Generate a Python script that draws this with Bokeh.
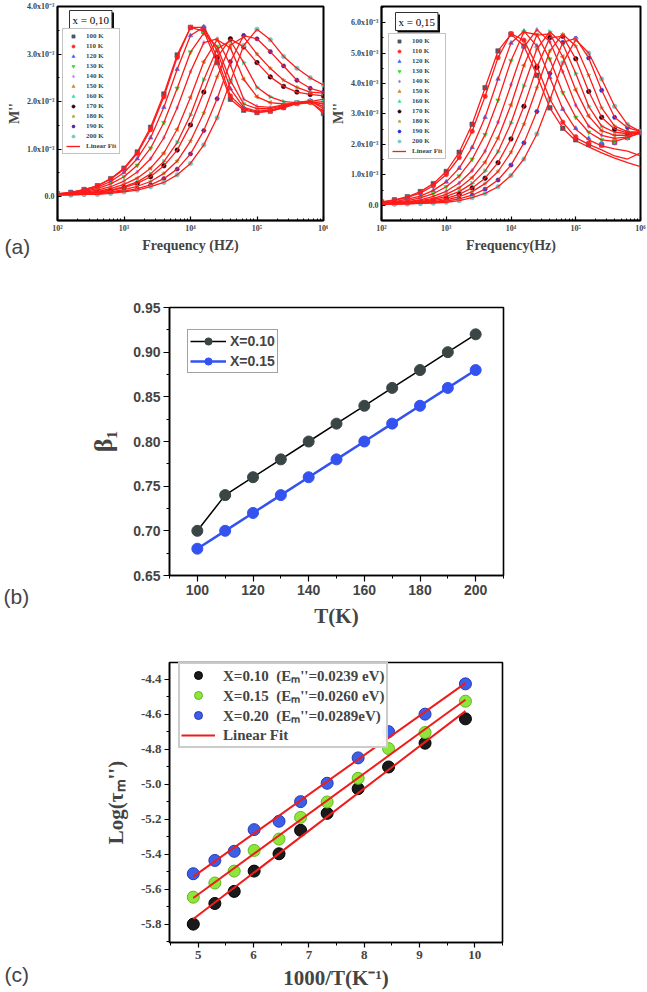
import numpy as np
from bokeh.plotting import figure
from bokeh.layouts import column, row
from bokeh.models import (Legend, LegendItem, Label, FixedTicker, CustomJSTickFormatter,
                          NumeralTickFormatter, Range1d)
from bokeh.embed import file_html
from bokeh.resources import INLINE

SERIF = "Liberation Serif"
SANS = "Liberation Sans"

# ---------------- data: panel (a) ----------------
temp_labels = ["100 K", "110 K", "120 K", "130 K", "140 K", "150 K",
               "160 K", "170 K", "180 K", "190 K", "200 K"]
log_freq = [2.0, 2.2, 2.4, 2.6, 2.8, 3.0, 3.2, 3.4, 3.6, 3.8, 4.0,
            4.2, 4.4, 4.6, 4.8, 5.0, 5.2, 5.4, 5.6, 5.8, 6.0]

# M'' (units of 1e-3), x = 0,10
a10_100 = [0.06, 0.09, 0.15, 0.23, 0.38, 0.60, 0.94, 1.46, 2.16, 2.98, 3.56, 3.48, 2.82, 2.05, 1.82, 1.77, 1.80, 1.88, 1.97, 2.00, 1.75]
a10_110 = [0.06, 0.09, 0.15, 0.23, 0.37, 0.58, 0.91, 1.41, 2.10, 2.93, 3.56, 3.56, 2.93, 2.12, 1.85, 1.78, 1.80, 1.87, 1.96, 1.98, 1.80]
a10_120 = [0.06, 0.08, 0.13, 0.20, 0.32, 0.51, 0.80, 1.24, 1.88, 2.68, 3.39, 3.57, 3.07, 2.27, 1.88, 1.80, 1.82, 1.90, 1.98, 2.02, 1.85]
a10_130 = [0.05, 0.07, 0.11, 0.17, 0.27, 0.42, 0.66, 1.02, 1.56, 2.28, 3.04, 3.44, 3.16, 2.44, 1.95, 1.85, 1.85, 1.92, 1.98, 2.00, 1.90]
a10_140 = [0.05, 0.06, 0.09, 0.14, 0.21, 0.33, 0.52, 0.80, 1.24, 1.87, 2.63, 3.24, 3.32, 2.77, 2.05, 1.90, 1.88, 1.93, 1.98, 2.00, 1.95]
a10_150 = [0.05, 0.06, 0.08, 0.11, 0.17, 0.26, 0.39, 0.60, 0.92, 1.42, 2.09, 2.84, 3.30, 3.13, 2.47, 2.10, 1.98, 1.95, 1.95, 1.98, 2.00]
a10_160 = [0.05, 0.05, 0.07, 0.10, 0.14, 0.21, 0.31, 0.48, 0.74, 1.14, 1.72, 2.46, 3.11, 3.28, 2.82, 2.30, 2.10, 2.00, 1.98, 2.00, 2.05]
a10_170 = [0.04, 0.05, 0.07, 0.09, 0.13, 0.19, 0.28, 0.42, 0.65, 0.98, 1.51, 2.20, 2.93, 3.32, 3.15, 2.82, 2.52, 2.32, 2.20, 2.15, 2.12]
a10_180 = [0.04, 0.05, 0.06, 0.08, 0.10, 0.15, 0.22, 0.32, 0.49, 0.75, 1.17, 1.76, 2.52, 3.19, 3.36, 3.00, 2.70, 2.45, 2.30, 2.20, 2.18]
a10_190 = [0.04, 0.04, 0.05, 0.06, 0.09, 0.12, 0.17, 0.25, 0.38, 0.58, 0.90, 1.39, 2.06, 2.84, 3.39, 3.32, 3.05, 2.75, 2.45, 2.28, 2.20]
a10_200 = [0.04, 0.04, 0.05, 0.05, 0.07, 0.10, 0.14, 0.21, 0.30, 0.46, 0.70, 1.09, 1.66, 2.42, 3.18, 3.52, 3.30, 2.95, 2.70, 2.50, 2.35]

# M'' (units of 1e-3), x = 0,15
b15_100 = [0.11, 0.18, 0.28, 0.45, 0.71, 1.11, 1.74, 2.66, 3.86, 5.07, 5.62, 5.23, 4.27, 3.20, 2.53, 2.15, 2.00, 1.98, 2.08, 2.25, 2.42]
b15_110 = [0.10, 0.16, 0.26, 0.40, 0.64, 1.01, 1.57, 2.43, 3.58, 4.85, 5.64, 5.42, 4.57, 3.49, 2.73, 2.25, 2.05, 1.98, 2.05, 2.22, 2.40]
b15_120 = [0.08, 0.12, 0.20, 0.30, 0.49, 0.77, 1.22, 1.90, 2.89, 4.15, 5.33, 5.72, 5.23, 4.20, 3.16, 2.53, 2.20, 2.05, 2.05, 2.20, 2.38]
b15_130 = [0.07, 0.10, 0.15, 0.24, 0.38, 0.61, 0.96, 1.51, 2.32, 3.45, 4.75, 5.69, 5.61, 4.80, 3.70, 2.89, 2.40, 2.15, 2.10, 2.22, 2.38]
b15_140 = [0.06, 0.08, 0.12, 0.18, 0.29, 0.46, 0.73, 1.14, 1.78, 2.73, 3.96, 5.20, 5.77, 5.37, 4.39, 3.29, 2.60, 2.30, 2.20, 2.25, 2.38]
b15_150 = [0.06, 0.07, 0.10, 0.15, 0.23, 0.36, 0.57, 0.91, 1.42, 2.21, 3.30, 4.60, 5.59, 5.63, 4.88, 3.79, 2.93, 2.45, 2.30, 2.30, 2.40]
b15_160 = [0.05, 0.06, 0.08, 0.12, 0.19, 0.29, 0.45, 0.72, 1.13, 1.76, 2.70, 3.92, 5.14, 5.70, 5.30, 4.33, 3.25, 2.60, 2.40, 2.35, 2.40]
b15_170 = [0.05, 0.06, 0.07, 0.10, 0.15, 0.23, 0.36, 0.57, 0.89, 1.40, 2.18, 3.25, 4.53, 5.51, 5.55, 4.81, 3.74, 2.89, 2.50, 2.38, 2.40]
b15_180 = [0.04, 0.05, 0.06, 0.08, 0.12, 0.18, 0.28, 0.45, 0.71, 1.11, 1.74, 2.66, 3.86, 5.07, 5.62, 5.23, 4.27, 3.20, 2.60, 2.42, 2.40]
b15_190 = [0.04, 0.04, 0.05, 0.07, 0.10, 0.14, 0.21, 0.33, 0.53, 0.83, 1.32, 2.05, 3.08, 4.33, 5.35, 5.48, 4.84, 3.78, 2.89, 2.55, 2.42]
b15_200 = [0.04, 0.04, 0.05, 0.06, 0.07, 0.10, 0.15, 0.25, 0.39, 0.61, 0.98, 1.52, 2.34, 3.46, 4.68, 5.44, 5.00, 4.15, 3.25, 2.65, 2.42]
# fitted curves that leave the data at high frequency (x = 0,15)
f15_100 = [0.11, 0.18, 0.28, 0.45, 0.71, 1.11, 1.74, 2.66, 3.86, 5.07, 5.62, 5.23, 4.27, 3.20, 2.53, 2.12, 1.92, 1.72, 1.55, 1.40, 1.27]
f15_110 = [0.10, 0.16, 0.26, 0.40, 0.64, 1.01, 1.57, 2.43, 3.58, 4.85, 5.64, 5.42, 4.57, 3.49, 2.73, 2.22, 2.00, 1.82, 1.62, 1.52, 1.72]
f15_120 = [0.08, 0.12, 0.20, 0.30, 0.49, 0.77, 1.22, 1.90, 2.89, 4.15, 5.33, 5.72, 5.23, 4.20, 3.16, 2.50, 2.15, 1.95, 1.85, 1.78, 1.62]

# ---------------- data: panel (b) ----------------
T_b = [100, 110, 120, 130, 140, 150, 160, 170, 180, 190, 200]
beta_010 = [0.70, 0.74, 0.76, 0.78, 0.80, 0.82, 0.84, 0.86, 0.88, 0.90, 0.92]
beta_015 = [0.68, 0.70, 0.72, 0.74, 0.76, 0.78, 0.80, 0.82, 0.84, 0.86, 0.88]

# ---------------- data: panel (c) ----------------
inv_T = [4.91, 5.30, 5.65, 6.01, 6.46, 6.85, 7.33, 7.89, 8.44, 9.10, 9.83]
tau_010 = [-5.798, -5.680, -5.611, -5.495, -5.396, -5.262, -5.165, -5.024, -4.900, -4.764, -4.625]
tau_015 = [-5.644, -5.563, -5.495, -5.377, -5.312, -5.188, -5.100, -4.965, -4.795, -4.703, -4.524]
tau_020 = [-5.510, -5.434, -5.382, -5.258, -5.210, -5.098, -4.993, -4.848, -4.698, -4.598, -4.425]
labels_c = ["X=0.10  (E\u2098''=0.0239 eV)", "X=0.15  (E\u2098''=0.0260 eV)",
            "X=0.20  (E\u2098''=0.0289eV)"]

MARKERS = ["square", "circle", "triangle", "inverted_triangle", "diamond", "triangle",
           "triangle", "circle", "star", "hex", "circle"]
ANGLES = [0, 0, 0, 0, 0, np.pi / 2, -np.pi / 2, 0, 0, 0, 0]
COLORS_10 = ["#4a5866", "#ff2a2a", "#3a66ff", "#22e022", "#b48af0", "#d0852a",
             "#36e09a", "#2a0012", "#a4a23e", "#5a1f9a", "#74c8c0"]
COLORS_15 = ["#4a5866", "#ff2a2a", "#3a66ff", "#22e022", "#a070e8", "#d0852a",
             "#36e09a", "#2a0012", "#a4a23e", "#2230e0", "#74c8c0"]
FIT_RED = "#ff1a1a"

freq = [10 ** g for g in log_freq]


def style_axes_common(p):
    p.grid.visible = False
    p.outline_line_color = "black"
    p.outline_line_width = 1.6
    for ax in (p.xaxis[0], p.yaxis[0]):
        ax.axis_line_width = 1.5
        ax.major_tick_line_width = 1.2
        ax.minor_tick_line_width = 1.0


def panel_label(text, x, y):
    # x, y in canvas pixels (y from the top); placed in a side panel so it is not clipped
    return Label(x=x, y=y, x_units="canvas", y_units="canvas", text=text,
                 text_font=SANS, text_font_size="21px", text_baseline="bottom")


def panel_a(curves, fits, colors, ymax, yticks, yminor, xtitle, box_text,
            width, left, right, box_xy, leg_loc):
    p = figure(width=width, height=280, x_axis_type="log",
               x_range=Range1d(100, 1e6), y_range=Range1d(-0.5, ymax),
               output_backend="svg", toolbar_location=None,
               min_border_left=left, min_border_right=right,
               min_border_top=6, min_border_bottom=60)
    style_axes_common(p)
    p.outline_line_width = 2
    minor = [k * 10 ** e for e in range(2, 6) for k in range(2, 10)]
    p.xaxis.ticker = FixedTicker(ticks=[1e2, 1e3, 1e4, 1e5, 1e6], minor_ticks=minor)
    p.xaxis.formatter = CustomJSTickFormatter(code="""
        const s = {2:'\u00b2', 3:'\u00b3', 4:'\u2074', 5:'\u2075', 6:'\u2076'};
        return '10' + s[Math.round(Math.log10(tick))];
    """)
    p.yaxis.ticker = FixedTicker(ticks=yticks, minor_ticks=yminor)
    p.yaxis.formatter = CustomJSTickFormatter(code="""
        return tick == 0 ? '0.0' : tick.toFixed(1) + 'x10\u207b\u00b3';
    """)
    for ax in (p.xaxis[0], p.yaxis[0]):
        ax.major_tick_in = 4
        ax.major_tick_out = 0
        ax.minor_tick_in = 2
        ax.minor_tick_out = 0
        ax.major_label_text_font = SERIF
        ax.major_label_text_font_style = "bold"
        ax.major_label_text_font_size = "8px"
        ax.major_label_standoff = 3
        ax.axis_label_text_font = SERIF
        ax.axis_label_text_font_style = "bold"
        ax.axis_label_standoff = 2
    p.xaxis.axis_label = xtitle
    p.xaxis.axis_label_text_font_size = "14px"
    p.yaxis.axis_label = "M''"
    p.yaxis.axis_label_text_font_size = "14px"

    scat = []
    for i, ys in enumerate(curves):
        r = p.scatter(freq, ys, marker=MARKERS[i], angle=ANGLES[i], size=4.5,
                      fill_color=colors[i], line_color=colors[i], line_width=0.6)
        scat.append(r)
    fit_r = []
    for ys in fits:
        fit_r.append(p.line(freq, ys, line_color=FIT_RED, line_width=1.3))

    items = [LegendItem(label=t, renderers=[r]) for t, r in zip(temp_labels, scat)]
    items.append(LegendItem(label="Linear Fit", renderers=[fit_r[0]]))
    leg = Legend(items=items, location=leg_loc, label_text_font=SERIF,
                 label_text_font_style="bold", label_text_font_size="7px",
                 label_height=8, glyph_height=8, glyph_width=14, spacing=2,
                 padding=3, margin=0, label_standoff=6,
                 border_line_color="#888888", border_line_width=1,
                 background_fill_color="white", background_fill_alpha=1)
    p.add_layout(leg)

    bx, by = box_xy
    shadow = Label(x=bx + 2, y=by - 2, x_units="screen", y_units="screen",
                   text=box_text, text_baseline="top", text_font=SERIF,
                   text_font_size="11px", text_color="black",
                   background_fill_color="black", padding=3)
    box = Label(x=bx, y=by, x_units="screen", y_units="screen",
                text=box_text, text_baseline="top", text_font=SERIF,
                text_font_size="11px", text_color="black",
                background_fill_color="white", border_line_color="#333333",
                border_line_width=1, padding=3)
    p.add_layout(shadow)
    p.add_layout(box)
    return p


curves10 = [a10_100, a10_110, a10_120, a10_130, a10_140, a10_150,
            a10_160, a10_170, a10_180, a10_190, a10_200]
curves15 = [b15_100, b15_110, b15_120, b15_130, b15_140, b15_150,
            b15_160, b15_170, b15_180, b15_190, b15_200]
fits15 = [f15_100, f15_110, f15_120] + curves15[3:]

pa1 = panel_a(curves10, curves10, COLORS_10, 4.0, [0, 1, 2, 3, 4],
              [-0.5, 0.5, 1.5, 2.5, 3.5], "Frequency (HZ)", "x = 0,10",
              328, 57, 5, (12, 210), (5, 66))
pa2 = panel_a(curves15, fits15, COLORS_15, 6.53, [0, 1, 2, 3, 4, 5, 6],
              [-0.5, 0.5, 1.5, 2.5, 3.5, 4.5, 5.5, 6.5], "Frequency(Hz)", "x = 0,15",
              318, 51, 6, (14, 208), (7, 61))
pa1.add_layout(panel_label("(a)", 4, 257), "below")

# ---------------- panel (b) ----------------
pb = figure(width=528, height=350, x_range=Range1d(90, 210), y_range=Range1d(0.65, 0.95),
            output_backend="svg", toolbar_location=None,
            min_border_left=169, min_border_right=25, min_border_top=27, min_border_bottom=55)
style_axes_common(pb)
pb.xaxis.ticker = FixedTicker(ticks=[100, 120, 140, 160, 180, 200],
                              minor_ticks=[90, 110, 130, 150, 170, 190, 210])
pb.yaxis.ticker = FixedTicker(ticks=[0.65, 0.70, 0.75, 0.80, 0.85, 0.90, 0.95],
                              minor_ticks=[0.675, 0.725, 0.775, 0.825, 0.875, 0.925])
pb.yaxis.formatter = NumeralTickFormatter(format="0.00")
for ax in (pb.xaxis[0], pb.yaxis[0]):
    ax.major_tick_in = 0
    ax.major_tick_out = 6
    ax.minor_tick_in = 0
    ax.minor_tick_out = 3
    ax.major_label_text_font = SANS
    ax.major_label_text_font_style = "bold"
    ax.major_label_text_font_size = "14px"
    ax.major_label_standoff = 3
    ax.axis_label_text_font = SERIF
    ax.axis_label_text_font_style = "bold"
    ax.axis_label_standoff = 6
pb.xaxis.axis_label = "T(K)"
pb.xaxis.axis_label_text_font_size = "21px"
pb.yaxis.axis_label = "\u03b2\u2081"
pb.yaxis.axis_label_text_font_size = "26px"
pb.yaxis.axis_label_standoff = 12

lb1 = pb.line(T_b, beta_010, line_color="black", line_width=1.5)
sb1 = pb.scatter(T_b, beta_010, marker="circle", size=11, fill_color="#3a4646",
                 line_color="#3a4646")
lb2 = pb.line(T_b, beta_015, line_color="#3352f0", line_width=2.5)
sb2 = pb.scatter(T_b, beta_015, marker="circle", size=11, fill_color="#3352f0",
                 line_color="#3352f0")
leg_b = Legend(items=[LegendItem(label="X=0.10", renderers=[lb1, sb1]),
                      LegendItem(label="X=0.15", renderers=[lb2, sb2])],
               location=(18, 202), label_text_font=SANS, label_text_font_style="bold",
               label_text_font_size="14px", label_height=18, glyph_height=18,
               glyph_width=36, spacing=2, padding=2, margin=0, label_standoff=4,
               border_line_color="#444444", border_line_width=1.2)
pb.add_layout(leg_b)
# page y 607 -> canvas y of pb (starts at page 280)
pb.add_layout(panel_label("(b)", 3, 327), "left")

# ---------------- panel (c) ----------------
pc = figure(width=527, height=362, x_range=Range1d(4.48, 10.5), y_range=Range1d(-5.903, -4.303),
            output_backend="svg", toolbar_location=None,
            min_border_left=159, min_border_right=20, min_border_top=32, min_border_bottom=50)
style_axes_common(pc)
pc.xaxis.ticker = FixedTicker(ticks=[5, 6, 7, 8, 9, 10],
                              minor_ticks=[4.5, 5.5, 6.5, 7.5, 8.5, 9.5, 10.5])
pc.yaxis.ticker = FixedTicker(ticks=[-5.8, -5.6, -5.4, -5.2, -5.0, -4.8, -4.6, -4.4],
                              minor_ticks=[-5.9, -5.7, -5.5, -5.3, -5.1, -4.9, -4.7, -4.5, -4.3])
pc.yaxis.formatter = NumeralTickFormatter(format="0.0")
for ax in (pc.xaxis[0], pc.yaxis[0]):
    ax.major_tick_in = 0
    ax.major_tick_out = 5
    ax.minor_tick_in = 0
    ax.minor_tick_out = 3
    ax.major_label_text_font = SERIF
    ax.major_label_text_font_style = "bold"
    ax.major_label_text_font_size = "13px"
    ax.major_label_standoff = 3
    ax.axis_label_text_font = SERIF
    ax.axis_label_text_font_style = "bold"
    ax.axis_label_text_font_size = "21px"
    ax.axis_label_standoff = 4
pc.xaxis.axis_label = "1000/T(K\u207b\u00b9)"
pc.yaxis.axis_label = "Log(\u03c4\u2098'')"
pc.yaxis.axis_label_standoff = 10

series_c = [(tau_010, "#1a1a1a", "#000000"), (tau_015, "#8ee63c", "#5fb820"),
            (tau_020, "#3d5fe6", "#2238b8")]
sc_r = []
fit_c = []
x_arr = np.array(inv_T)
for ys, fc, lc in series_c:
    sc_r.append(pc.scatter(inv_T, ys, marker="circle", size=12, fill_color=fc,
                           line_color=lc, line_width=1))
for ys, fc, lc in series_c:
    k, b = np.polyfit(x_arr, np.array(ys), 1)
    xs = [inv_T[0], inv_T[-1]]
    fit_c.append(pc.line(xs, [k * v + b for v in xs], line_color="#ee1c1c", line_width=2))
items_c = [LegendItem(label=t, renderers=[r]) for t, r in zip(labels_c, sc_r)]
items_c.append(LegendItem(label="Linear Fit", renderers=[fit_c[0]]))
leg_c = Legend(items=items_c, location=(9, 194), label_text_font=SERIF,
               label_text_font_style="bold", label_text_font_size="15px",
               label_height=20, glyph_height=20, glyph_width=34, spacing=0,
               padding=1, margin=0, label_standoff=8,
               border_line_color="#999999", border_line_width=2)
pc.add_layout(leg_c)
pc.add_layout(panel_label("(c)", 4, 355), "left")

layout = column(row(pa1, pa2), pb, pc)
open("out.html", "w").write(file_html(layout, INLINE))
